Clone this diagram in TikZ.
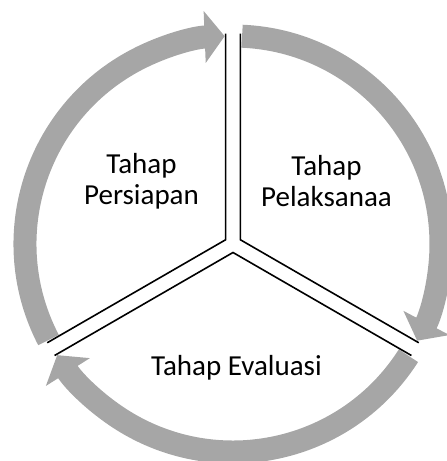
\documentclass[tikz,border=0pt]{standalone}
\usepackage{fontspec}
\setmainfont{Carlito}
\usepackage{tikz}
\usetikzlibrary{arrows.meta,calc}

\definecolor{ringgray}{RGB}{166,166,166}

\begin{document}
\begin{tikzpicture}[
  x=1pt, y=1pt,
  font=\fontsize{29}{31}\selectfont,
  >={Triangle[width=51pt,length=20pt]},
  cyclearc/.style={->, draw=ringgray, line width=23pt},
  divider/.style={draw, line width=1.6pt},
  phase/.style={align=center, inner sep=0pt}
]
  \useasboundingbox (-233,-217) rectangle (214,244);

  % cycle arrows
  \draw[cyclearc] (207.5:208) arc[start angle=207.5, end angle=92.3, radius=208];
  \draw[cyclearc] (87.5:208) arc[start angle=87.5, end angle=-27.7, radius=208];
  \draw[cyclearc] (-32.5:208) arc[start angle=-32.5, end angle=-147.7, radius=208];

  % sector corners
  \coordinate (prepc) at (150:8.5);
  \coordinate (execc) at (30:8.5);
  \coordinate (evalc) at (270:8.5);

  \draw[divider] ($(prepc)+(90:206)$) -- (prepc) -- ($(prepc)+(210:206)$);
  \draw[divider] ($(execc)+(90:206)$) -- (execc) -- ($(execc)+(-30:206)$);
  \draw[divider] ($(evalc)+(210:206)$) -- (evalc) -- ($(evalc)+(-30:206)$);

  \node[phase] (prep) at (-91.5,63) {Tahap\\Persiapan};
  \node[phase] (exec) at (93.5,63) {Tahap\\Pelaksanaa};
  \node[phase, anchor=base] (eval) at (3.5,-131) {Tahap Evaluasi};
\end{tikzpicture}
\end{document}
